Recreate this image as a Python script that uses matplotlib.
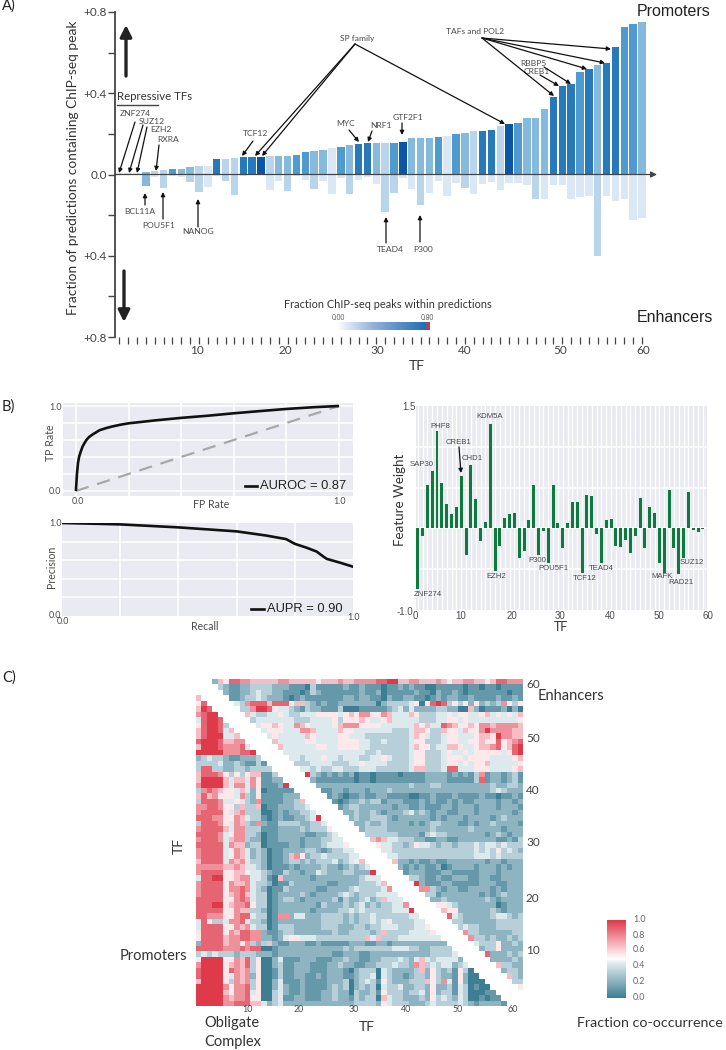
import numpy as np
import matplotlib
matplotlib.use('Agg')
import matplotlib.pyplot as plt
from matplotlib.colors import LinearSegmentedColormap

plt.rcParams['font.family'] = ['Lato', 'DejaVu Sans']

W, H = 726, 1050

# -----------------------------
# Panel A data
# -----------------------------
promoter_frac = [.005, .007, .005, .013, .016, .023, .025, .028, .036, .043,
                 .043, .074, .076, .081, .086, .086, .086, .089, .089, .089,
                 .094, .113, .117, .122, .131, .136, .143, .149, .154, .154,
                 .156, .156, .158, .179, .179, .182, .187, .192, .197, .204,
                 .212, .214, .217, .237, .248, .256, .278, .278, .322, .383,
                 .437, .447, .506, .521, .541, .549, .626, .724, .741, .752]
enhancer_frac = [.002, .003, .003, .057, .013, .067, .005, .010, .038, .087,
                 .061, .007, .031, .100, .005, .003, .003, .074, .031, .079,
                 .005, .025, .069, .033, .094, .015, .097, .025, .011, .046,
                 .187, .090, .015, .069, .150, .089, .031, .105, .044, .067,
                 .095, .049, .035, .074, .043, .044, .054, .122, .123, .051,
                 .053, .123, .112, .107, .400, .108, .128, .120, .223, .214]
# shade index of each bar, 0 is the darkest blue
promoter_shade = [5, 5, 5, 3, 4, 4, 2, 3, 3, 4, 5, 1, 4, 4, 1, 1, 0, 4, 3, 3,
                  2, 2, 3, 3, 5, 2, 3, 1, 1, 3, 4, 2, 0, 3, 3, 3, 2, 5, 2, 3,
                  4, 1, 1, 4, 0, 2, 3, 3, 3, 1, 1, 1, 2, 1, 3, 1, 1, 2, 2, 3]
enhancer_shade = [5, 5, 5, 3, 5, 4, 5, 5, 4, 4, 5, 5, 4, 4, 5, 5, 5, 5, 5, 4,
                  5, 5, 4, 5, 5, 5, 4, 5, 5, 5, 4, 4, 5, 5, 4, 5, 5, 5, 5, 4,
                  5, 5, 5, 5, 5, 5, 5, 4, 5, 5, 5, 5, 5, 5, 4, 5, 5, 5, 5, 5]
blues = ['#0B55A5', '#2679BB', '#4F9ACF', '#86BADD', '#B9D5EC', '#DAE8F6']

# -----------------------------
# Panel B data
# -----------------------------
roc_fpr = [0, .002, .004, .008, .012, .018, .025, .032, .04, .05, .066, .09, .115, .14, .17,
           .2, .3, .4, .5, .6, .7, .8, .9, 1]
roc_tpr = [0, .10, .20, .33, .40, .46, .52, .56, .60, .635, .67, .715, .74, .76, .78,
           .796, .83, .86, .885, .914, .94, .965, .985, 1]
pr_recall = [0, .1, .2, .4, .6, .7, .77, .8, .84, .875, .90, .91, .955, 1]
pr_precision = [1, .993, .985, .953, .91, .866, .827, .776, .735, .693, .635, .614, .574, .53]
feature_weight = [-.737, -.093, .526, .709, 1.194, .555, .304, .182, .267, .648,
                  -.332, .781, .364, -.150, .077, 1.283, -.518, -.210, .130, .182,
                  .190, -.364, -.283, .097, .526, -.328, -.028, -.425, .526, .061,
                  -.235, .061, .324, .324, -.550, .413, .397, -.065, -.421, .105,
                  .113, -.210, -.223, -.138, -.296, -.093, .368, -.235, .267, .190,
                  -.425, -.547, .466, -.243, -.555, -.360, .449, -.024, -.045, -.008]

# -----------------------------
# Panel C data, one digit per cell, digit / 9 is the fraction
# lower_rows[i] is heatmap row i + 3 counted from the top, filled from column 0
# upper_rows[i] is heatmap row i, filled back from column 59
# -----------------------------
lower_rows = [
    "6", "58", "698", "7899", "48998", "589983", "6899846", "68999446",
    "899986677", "6999877784", "99999777889", "234332112223", "3333422321131",
    "38833223323333", "688875353566113", "6999964664751122",
    "79999647747511129", "378765546425011111", "6867555473251111222",
    "38887445432711112236", "778875536336011222334", "7888854673330012122334",
    "88877557643310121122349", "388875476327211333322334",
    "7888864773331112222323335", "88887457733201122222112234",
    "788874677322011222212223344", "8888847662330111122122234445",
    "78888457642320112222332123344", "788884576423201126752334333344",
    "6888847674332011233232333423456", "77777667644320111212222322123234",
    "788885566544321132212243222332229", "4889955677443106222221222222223444",
    "78888576674332011322222211222233346", "788885778743201132222211222234333347",
    "7888856786433012222321222234323334444",
    "88888557874330123321222223132234236444",
    "888995677853301222222213222323423233447",
    "8888855766332012222221222233434333334449",
    "88777557884330177244222333323233433333344",
    "485334778433201222222223333232334345333344",
    "4888855767433013332222233322233233444333445",
    "58888576887721123322222223223333236333344445",
    "588886778877221245544433333333364633344444444",
    "2888867757323621122211211111222112212222222222",
    "88888777878800122222222222232333333344433223333",
    "343433323332221222222222211222112222222222233334",
    "5999955768350024111222111223221122333432464344442",
    "79999567683500231122211122322112233343327634344234",
    "899995876735001311222111222102333043222236253231530",
    "8999954767250013112211212221123340432212332532215200",
    "69999537673500241112111122230234315322233365374152000",
    "999997577835002421121111232302323043342233252231430100",
    "9999965778450034211211122322032231533323342523314300011",
    "99999767785500341122111223221323306433222325343243001011",
    "999997788866423422222222222223333254333222343333432122221",
]
upper_rows = [
    "26588776666677666665666" "7667777889966776667656677665688777",
    "3211223333222111031111" "1211211101121211001111101101101111",
    "211223433221110132111" "1111211201111121102112101111111011",
    "11233432221012111111" "1221221102112211012122112111121121",
    "4378886888566321211" "2222222023333450589835352523237535",
    "337998544321322111" "3000111112342422223322006201112020",
    "64334454334445555" "4565775576444653334454554456454546",
    "3444444433344445" "3555654456444443334455454444444445",
    "455654476544445" "6777555544444465644876556577677776",
    "45554447764444" "6554444444333466533655465579777766",
    "4544444654444" "5544433333333465433455444566597766",
    "644444554444" "5555443343333455333455445565585678",
    "64444445544" "5555443333333465534466544566785689",
    "4444444444" "4444433433333455333454454555554589",
    "443444544" "3444334454333455333455545555444456",
    "33344443" "3344544443333455333455454556444445",
    "4434334" "4333444333333466333488444555444456",
    "932121" "2120110111101111222212121371221231",
    "21111" "1110110111111111222211111381221231",
    "2222" "2222222222222322233222222222322332",
    "112" "2122212223222222222222222222343222",
    "12" "1011211221111001121112111121101121",
    "1" "0122323312221112121121211222212212",
    "1233222222122112111221222122212221",
    "2223223212223423212211222122222212",
    "23223332122222212122212222123222",
    "2232232222121233222112122322221",
    "233332222222232222223222221222",
    "33333322221343322222221232122",
    "6764433322112211222222211213",
    "544332354432332333434434333",
    "44433333333333333343435343 2",
    "5443333333333333344434 3333",
    "622121121122222221221222",
    "21212112012222122212122",
    "1222111221111122212222",
    "332112112221122112222",
    "92111221111122211222",
    "7732122112222121222",
    "331222222212123222",
    "22322222223212222",
    "5543222222201222",
    "655222222321222",
    "84322222344323",
    "3322222233333",
    "343322233333",
    "73322222233",
    "7332322323",
    "433352232",
    "23352222",
    "8222323",
    "222232",
    "63322",
    "2332",
    "632",
    "33",
    "5",
]

# -----------------------------
# Small label text and where it goes, in picture pixels
# -----------------------------
a_labels = [('ZNF274', 135, 113), ('SUZ12', 152, 121), ('EZH2', 161, 130), ('RXRA', 168, 140),
            ('TCF12', 255, 134), ('SP family', 357, 38), ('MYC', 346, 124), ('NRF1', 381, 126),
            ('GTF2F1', 408, 118), ('BCL11A', 140, 212), ('POU5F1', 159, 225), ('NANOG', 198, 232),
            ('TEAD4', 390, 249), ('P300', 423, 250), ('TAFs and POL2', 475, 32),
            ('RBBP5', 533, 63), ('CREB1', 537, 72)]
a_arrows = [((135, 122), (119, 173)), ((143, 125), (129, 173)), ((147, 127), (137, 173)),
            ((159, 145), (156, 171)), ((253, 141), (242, 156)), ((355, 44), (255, 156)),
            ((355, 44), (262, 156)), ((355, 44), (505, 124)), ((349, 130), (359, 142)),
            ((372, 131), (368, 142)), ((402, 123), (402, 135)), ((145, 205), (145, 193)),
            ((163, 219), (163, 192)), ((198, 227), (198, 199)), ((386, 243), (386, 217)),
            ((420, 242), (420, 215)), ((482, 38), (611, 49)), ((482, 38), (605, 63)),
            ((482, 38), (587, 69)), ((482, 38), (554, 96)), ((544, 67), (571, 84)),
            ((540, 75), (559, 86))]
a_ticks = [('10', 197), ('20', 285), ('30', 377), ('40', 465), ('50', 560), ('60', 643)]
b_labels = [('PHF8', 440, 426), ('KDM5A', 490, 417), ('CREB1', 459, 443), ('CHD1', 472, 458),
            ('SAP30', 422, 464), ('ZNF274', 428, 594), ('EZH2', 496, 576), ('P300', 537, 560),
            ('POU5F1', 553, 569), ('TCF12', 585, 578), ('TEAD4', 601, 569), ('MAFK', 662, 576),
            ('RAD21', 681, 583), ('SUZ12', 692, 563)]
b_ticks = [('0', 415), ('10', 461), ('20', 512), ('30', 560), ('40', 610), ('50', 659), ('60', 708)]
c_ticks = [('10', 247), ('20', 299), ('30', 354), ('40', 406), ('50', 458), ('60', 513)]
c_yticks = [('60', 684), ('50', 739), ('40', 790), ('30', 843), ('20', 898), ('10', 950)]
cbar_ticks = [('1.0', 919), ('0.8', 935), ('0.6', 950), ('0.4', 966), ('0.2', 982), ('0.0', 997)]


def ax_px(left, top, right, bottom):
    return fig.add_axes([left / W, 1 - bottom / H, (right - left) / W, (bottom - top) / H])


def put(x, y, s, size=6.0, color='#4a4a4a', ha='center', va='center', **kw):
    ov.text(x, y, s, fontsize=size, color=color, ha=ha, va=va, **kw)


fig = plt.figure(figsize=(W / 100, H / 100), dpi=100, facecolor='white')

# -----------------------------
# A) stacked fractions
# -----------------------------
ax_a = ax_px(115, 12, 657, 337)
tf = np.arange(1, 61)
ax_a.bar(tf, promoter_frac, width=0.84, color=[blues[i] for i in promoter_shade], zorder=2)
ax_a.bar(tf, -np.array(enhancer_frac), width=0.84, color=[blues[i] for i in enhancer_shade], zorder=2)
ax_a.set_xlim(0.515, 61.69)
ax_a.set_ylim(-0.8, 0.8)
for side in ['top', 'right', 'bottom']:
    ax_a.spines[side].set_visible(False)
ax_a.spines['left'].set_linewidth(1.3)
ax_a.spines['left'].set_color('#444444')
ax_a.set_yticks([-0.8, -0.6, -0.4, -0.2, 0, 0.2, 0.4, 0.6, 0.8])
ax_a.set_yticklabels(['+0.8', '', '+0.4', '', '0.0', '', '+0.4', '', '+0.8'])
ax_a.set_xticks(tf)
ax_a.set_xticklabels([])
ax_a.tick_params(axis='y', length=5, width=1, color='#444444', labelsize=8.5, labelcolor='#444444', pad=1)
ax_a.tick_params(axis='x', length=5, width=0.9, color='#444444')
ax_a.patch.set_alpha(0)
ax_a.annotate('', xy=(61.69, 0), xytext=(0.515, 0), zorder=3,
              arrowprops=dict(arrowstyle='-|>', color='#444444', lw=0.9, mutation_scale=9, shrinkA=0, shrinkB=0))

# colour key of panel A
ax_key = ax_px(337, 322, 430, 330)
key_cmap = LinearSegmentedColormap.from_list(
    'key', [(0, '#ffffff'), (0.4, '#8FAEDC'), (0.96, '#1F6FB5'), (0.97, '#C23A50'), (1, '#C23A50')])
ax_key.imshow(np.linspace(0, 1, 200)[None, :], cmap=key_cmap, aspect='auto')
ax_key.axis('off')

# -----------------------------
# B) ROC, PR and feature weights
# -----------------------------
ax_roc = ax_px(63, 403, 353, 496)
ax_roc.set_facecolor('#EAEAF2')
ax_roc.plot([0, 1], [0, 1], color='#A8A8A8', lw=1.6, dashes=(6, 4))
ax_roc.plot(roc_fpr, roc_tpr, color='#111111', lw=1.9, solid_capstyle='butt')
ax_roc.set_xlim(-0.049, 1.053)
ax_roc.set_ylim(-0.059, 1.035)
ax_roc.set_xticks(np.arange(0, 1.01, 0.2))
ax_roc.set_yticks(np.arange(0, 1.01, 0.2))

ax_pr = ax_px(62, 523, 353, 616)
ax_pr.set_facecolor('#EAEAF2')
ax_pr.plot(pr_recall, pr_precision, color='#111111', lw=1.9)
ax_pr.set_xlim(0, 1)
ax_pr.set_ylim(0, 1)
ax_pr.set_xticks(np.arange(0.2, 0.9, 0.2))
ax_pr.set_yticks(np.arange(0.2, 0.9, 0.2))

ax_w = ax_px(416, 406, 707, 610)
ax_w.set_facecolor('#EAEAF2')
ax_w.bar(tf, feature_weight, width=0.62, color='#0E7A3D', zorder=2)
ax_w.set_xlim(0.655, 60.86)
ax_w.set_ylim(-1.0, 1.5)
ax_w.set_xticks(tf)
ax_w.set_yticks([-0.5, 0, 0.5, 1.0])

for ax in (ax_roc, ax_pr, ax_w):
    ax.grid(True, color='white', lw=1.1)
    ax.set_axisbelow(True)
    ax.tick_params(length=0, labelbottom=False, labelleft=False)
    for spine in ax.spines.values():
        spine.set_visible(False)
ax_w.grid(True, axis='x', color='white', lw=0.9)

# -----------------------------
# C) co-occurrence heatmap
# -----------------------------
cooc = np.full((60, 60), np.nan)
for i, row in enumerate(lower_rows):
    r = i + 3
    digits = row.replace(' ', '').ljust(60, '3')
    cooc[r, :r - 2] = [int(d) / 9 for d in digits[:r - 2]]
for r, row in enumerate(upper_rows):
    digits = row.replace(' ', '').rjust(60, '3')
    cooc[r, r + 3:] = [int(d) / 9 for d in digits[r + 3:]]

cooc_cmap = LinearSegmentedColormap.from_list(
    'cooc', [(0, '#3D7E93'), (0.22, '#8FB5C2'), (0.44, '#DCE9ED'), (0.5, '#FFFFFF'),
             (0.56, '#FDE8EA'), (0.78, '#F0929C'), (1, '#DE3A4A')])
cooc_cmap.set_bad('white')

ax_c = ax_px(196, 679, 523, 1006)
ax_c.imshow(np.ma.masked_invalid(cooc), cmap=cooc_cmap, vmin=0, vmax=1, aspect='auto',
            extent=(0, 60, 0, 60), interpolation='nearest')
ax_c.set_xticks([])
ax_c.set_yticks([])
for spine in ax_c.spines.values():
    spine.set_visible(False)

ax_cb = ax_px(607, 920, 626, 998)
ax_cb.imshow(np.linspace(1, 0, 200)[:, None], cmap=cooc_cmap, aspect='auto', vmin=0, vmax=1)
ax_cb.axis('off')

# -----------------------------
# Text and arrows, in picture pixels
# -----------------------------
ov = fig.add_axes([0, 0, 1, 1], zorder=10)
ov.set_xlim(0, W)
ov.set_ylim(H, 0)
ov.axis('off')
ov.patch.set_alpha(0)

put(2, 6, 'A)', size=10.5, color='#222222', ha='left')
put(2, 407, 'B)', size=10.5, color='#222222', ha='left')
put(2, 678, 'C)', size=10.5, color='#222222', ha='left')

# panel A
put(73, 168, 'Fraction of predictions containing ChIP-seq peak', size=9.9, color='#333333', rotation=90)
put(637, 12, 'Promoters', size=11.5, color='#222222', ha='left', family='Liberation Sans')
put(637, 318, 'Enhancers', size=11.5, color='#222222', ha='left', family='Liberation Sans')
put(117, 97, 'Repressive TFs', size=8.2, color='#333333', ha='left')
ov.plot([117, 158], [105, 105], color='#444444', lw=1)
put(284, 304, 'Fraction ChIP-seq peaks within predictions', size=7.9, color='#333333', ha='left')
put(338, 318, '0.00', size=4.8, color='#555555')
put(427, 317, '0.80', size=4.8, color='#555555')
put(417, 366, 'TF', size=10, color='#333333')
for text, x in a_ticks:
    put(x, 350, text, size=8.5, color='#444444')
for text, x, y in a_labels:
    put(x, y, text, size=6.1)
for start, end in a_arrows:
    ov.annotate('', xy=end, xytext=start,
                arrowprops=dict(arrowstyle='-|>', color='#111111', lw=0.9, mutation_scale=6, shrinkA=0, shrinkB=0))
ov.annotate('', xy=(126, 25), xytext=(126, 76),
            arrowprops=dict(arrowstyle='-|>', color='#222222', lw=2.4, mutation_scale=17, shrinkA=0, shrinkB=0))
ov.annotate('', xy=(124, 322), xytext=(124, 271),
            arrowprops=dict(arrowstyle='-|>', color='#222222', lw=2.4, mutation_scale=17, shrinkA=0, shrinkB=0))

# panel B, curves
put(51, 443, 'TP Rate', size=7.6, rotation=90)
put(56, 407, '1.0', size=6.4)
put(55, 491, '0.0', size=6.4)
put(78, 502, '0.0', size=6.4)
put(340, 501, '1.0', size=6.4)
put(211, 504, 'FP Rate', size=7.6)
ov.plot([245, 257], [486, 486], color='#111111', lw=1.9)
put(260, 486, 'AUROC = 0.87', size=9.3, color='#222222', ha='left', family='Liberation Sans')
put(51, 567, 'Precision', size=7.6, rotation=90)
put(55, 523, '1.0', size=6.4)
put(55, 615, '0.0', size=6.4)
put(63, 622, '0.0', size=6.4)
put(353, 618, '1.0', size=6.4)
put(205, 626, 'Recall', size=7.6)
ov.plot([251, 264], [609, 609], color='#111111', lw=1.9)
put(267, 609, 'AUPR = 0.90', size=9.3, color='#222222', ha='left', family='Liberation Sans')

# panel B, weights
put(400, 500, 'Feature Weight', size=9.6, color='#333333', rotation=90)
put(409, 407, '1.5', size=7, family='Liberation Sans')
put(405, 612, '-1.0', size=7, family='Liberation Sans')
put(561, 627, 'TF', size=9, color='#333333')
for text, x in b_ticks:
    put(x, 616, text, size=7, family='Liberation Sans')
for text, x, y in b_labels:
    put(x, y, text, size=5.6, family='Liberation Sans')
ov.annotate('', xy=(461, 473), xytext=(459, 447),
            arrowprops=dict(arrowstyle='-|>', color='#111111', lw=0.9, mutation_scale=6, shrinkA=0, shrinkB=0))

# panel C
for text, x in c_ticks:
    put(x, 1010, text, size=6.4)
for text, y in c_yticks:
    put(526, y, text, size=8.5, color='#444444', ha='left')
for text, y in cbar_ticks:
    put(633, y, text, size=6.4, color='#666666', ha='left')
put(538, 696, 'Enhancers', size=10.5, color='#333333', ha='left')
put(120, 956, 'Promoters', size=10.5, color='#333333', ha='left')
put(179, 846, 'TF', size=10, color='#333333', rotation=90)
put(367, 1027, 'TF', size=10, color='#333333')
put(204, 1023, 'Obligate', size=10.5, color='#333333', ha='left')
put(204, 1042, 'Complex', size=10.5, color='#333333', ha='left')
put(577, 1023, 'Fraction co-occurrence', size=10.3, color='#333333', ha='left')

fig.savefig('out.png', dpi=100)
